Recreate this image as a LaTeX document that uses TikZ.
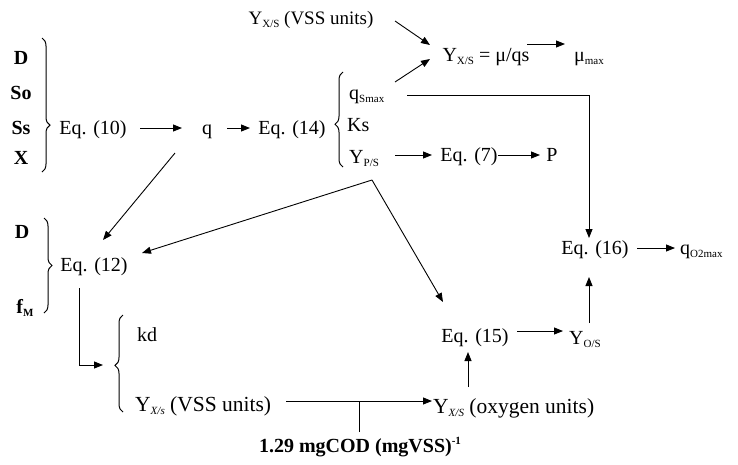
\documentclass[tikz,border=0pt]{standalone}
\usepackage{fontspec}
\setmainfont{Liberation Serif}
\usetikzlibrary{arrows.meta,decorations.pathreplacing,calc}
\newcommand\mysub[1]{\raisebox{-0.3ex}{\fontsize{11}{11}\selectfont #1}}
\newcommand\mysup[1]{\raisebox{0.85ex}{\fontsize{11}{11}\selectfont #1}}
\begin{document}
\begin{tikzpicture}[x=1pt,y=-1pt,
  txt/.style={inner sep=0pt, text height=13pt, text depth=0pt, font=\fontsize{20}{23}\selectfont},
  small/.style={txt, font=\fontsize{19}{22}\selectfont},
  big/.style={txt, font=\fontsize{21.5}{24}\selectfont},
  bld/.style={inner sep=0pt, text height=13pt, text depth=0pt, font=\fontsize{20}{23}\selectfont\bfseries},
  arr/.style={-{Triangle[length=9pt,width=7pt]}, line width=0.9pt},
  ln/.style={line width=0.9pt},
  brc/.style={decorate, line width=1pt, decoration={brace, amplitude=8pt, aspect=#1}}]
\useasboundingbox (0,0) rectangle (738,464);
% nodes
\node[small] (yvss) at (311,18) {Y\mysub{X/S} (VSS units)};
\node[txt] (ymu) at (486,55) {Y\mysub{X/S} = μ/qs};
\node[txt] (mumax) at (589,55) {μ\mysub{max}};
\node[bld] (d1) at (21,58) {D};
\node[bld] (so) at (21,93) {So};
\node[bld] (ss) at (21,128) {Ss};
\node[bld] (x) at (21,158) {X};
\node[txt] (eq10) at (93,128) {Eq. (10)};
\node[txt] (q) at (207,128) {q};
\node[txt] (eq14) at (292,128) {Eq. (14)};
\node[txt, anchor=west] (qsmax) at (349,93) {q\mysub{Smax}};
\node[txt, anchor=west] (ks) at (347,125) {Ks};
\node[txt, anchor=west] (yps) at (349,157) {Y\mysub{P/S}};
\node[txt] (eq7) at (469,155) {Eq. (7)};
\node[txt] (p) at (552,155) {P};
\node[bld] (d2) at (22,232) {D};
\node[bld] (fm) at (25,307) {f\mysub{M}};
\node[txt] (eq12) at (94,265) {Eq. (12)};
\node[txt, anchor=west] (kd) at (137,335) {kd};
\node[big, anchor=west] (yvss2) at (135,405) {Y\mysub{\itshape X/s} (VSS units)};
\node[big, anchor=west] (yox) at (433,407) {Y\mysub{\itshape X/S} (oxygen units)};
\node[bld] (cod) at (360,446) {1.29 mgCOD (mgVSS)\mysup{-1}};
\node[txt] (eq15) at (475,336) {Eq. (15)};
\node[txt] (yos) at (585,338) {Y\mysub{O/S}};
\node[txt] (eq16) at (595,248) {Eq. (16)};
\node[txt, anchor=west] (qo2) at (680,248) {q\mysub{O2max}};
\coordinate (apex) at ($(yps.west)+(23,23)$);
\coordinate (kdtip) at (113,365);
% braces
\draw[brc=0.65] (42,38) -- (42,172);
\draw[brc=0.45] (343,167) -- (343,72);
\draw[brc=0.5] (44,218) -- (44,313);
\draw[brc=0.48] (123,412) -- (123,315);
% connectors
\draw[arr] ($(yvss)+(84,3)$) -- ($(ymu)+(-56,-10)$);
\draw[arr] ($(qsmax.west)+(46,-11)$) -- ($(ymu)+(-56,4)$);
\draw[arr] ($(ymu)+(41,-11)$) -- ($(mumax)+(-24,-11)$);
\draw[arr] ($(qsmax.west)+(58,2)$) -| ($(eq16)+(-6,-10)$);
\draw[arr] ($(eq10)+(47,0)$) -- ($(q)+(-25,0)$);
\draw[arr] ($(q)+(20,0)$) -- ($(eq14)+(-42,0)$);
\draw[arr] ($(yps.west)+(46,-2)$) -- ($(eq7)+(-37,0)$);
\draw[arr] ($(eq7)+(29,0)$) -- ($(p)+(-12,0)$);
\draw[arr] ($(q)+(-32,25)$) -- ($(eq12)+(9,-25)$);
\draw[arr] (apex) -- ($(eq12)+(48,-12)$);
\draw[arr] (apex) -- ($(eq15)+(-32,-34)$);
\draw[arr] ($(eq12)+(-15,23)$) |- ($(kdtip)+(-10,0)$);
\draw[arr] ($(yvss2.west)+(151,-4)$) -- ($(yox.west)+(-1,-6)$);
\draw[ln] ($(cod)+(-1,-14)$) -- ($(cod)+(-1,-45)$);
\draw[arr] ($(yox.west)+(35,-20)$) -- ($(eq15)+(-7,16)$);
\draw[arr] ($(eq15)+(42,-5)$) -- ($(yos)+(-22,-7)$);
\draw[arr] ($(yos)+(4,-15)$) -- ($(eq16)+(-6,29)$);
\draw[arr] ($(eq16)+(42,0)$) -- ($(qo2.west)+(-5,0)$);
\end{tikzpicture}
\end{document}
